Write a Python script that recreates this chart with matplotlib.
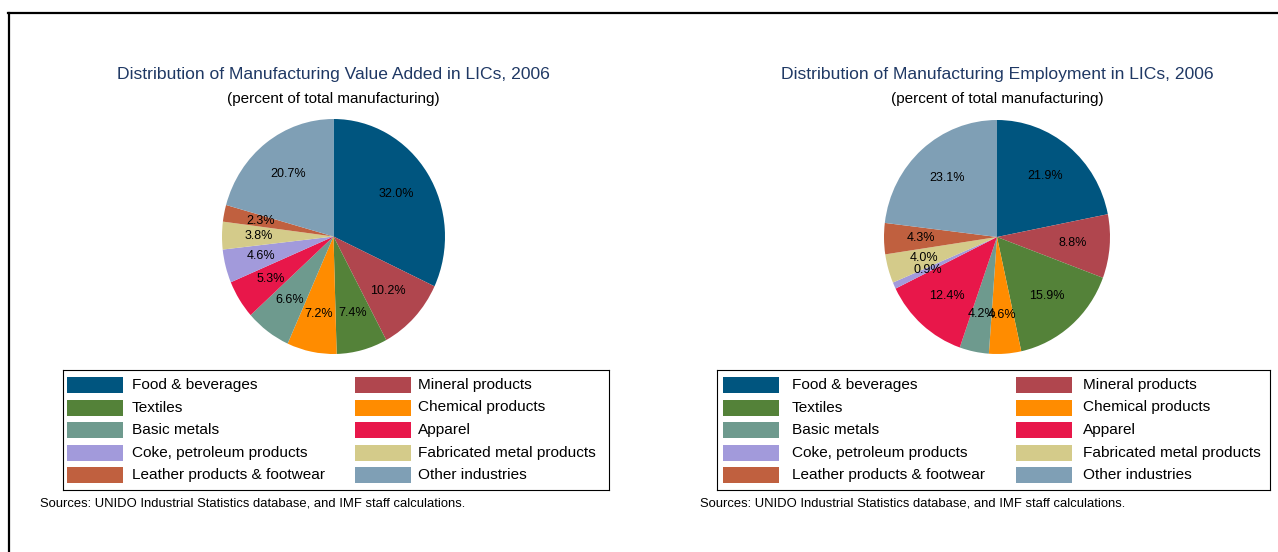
import matplotlib
matplotlib.use("Agg")
import matplotlib.pyplot as plt
from matplotlib.patches import Rectangle
from matplotlib.lines import Line2D

plt.rcParams['font.family'] = ['Liberation Sans', 'DejaVu Sans']

W, H = 1278, 552

categories = ["Food & beverages", "Mineral products", "Textiles", "Chemical products",
              "Basic metals", "Apparel", "Coke, petroleum products",
              "Fabricated metal products", "Leather products & footwear", "Other industries"]
colors = ["#00557f", "#b0464e", "#548239", "#ff8c00", "#6e9a8e",
          "#e8174a", "#a29adb", "#d4cb8a", "#c0603f", "#7f9fb5"]

value_added = [32.0, 10.2, 7.4, 7.2, 6.6, 5.3, 4.6, 3.8, 2.3, 20.7]
employment = [21.9, 8.8, 15.9, 4.6, 4.2, 12.4, 0.9, 4.0, 4.3, 23.1]

titles = ["Distribution of Manufacturing Value Added in LICs, 2006",
          "Distribution of Manufacturing Employment in LICs, 2006"]
subtitle = "(percent of total manufacturing)"
source = "Sources: UNIDO Industrial Statistics database, and IMF staff calculations."

fig = plt.figure(figsize=(W / 100, H / 100), dpi=100)


def px_axes(x0, y0, w, h):
    return fig.add_axes([x0 / W, (H - y0 - h) / H, w / W, h / H])


def draw_panel(values, title, pie_box, box, patch_x, text_x, src_x):
    # pie is slightly taller than wide in the original, so let it stretch
    px0, py0, px1, py1 = pie_box
    ax = px_axes(px0, py0, px1 - px0, py1 - py0)
    ax.pie(values, colors=colors, startangle=90, counterclock=False,
           autopct=lambda p: "%.1f%%" % p, pctdistance=0.67,
           wedgeprops=dict(linewidth=0),
           textprops=dict(fontsize=9, color="black"))
    ax.set_xlim(-1, 1)
    ax.set_ylim(-1, 1)
    ax.set_aspect("auto")
    ax.axis("off")

    cx = (px0 + px1) / 2
    fig.text(cx / W, 1 - 74 / H, title, ha="center", va="center",
             fontsize=12.6, color="#1f3864")
    fig.text(cx / W, 1 - 99 / H, subtitle, ha="center", va="center",
             fontsize=11, color="black")

    # legend box drawn by hand
    bx0, by0, bx1, by1 = box
    lax = px_axes(bx0, by0, bx1 - bx0, by1 - by0)
    lax.set_xlim(0, bx1 - bx0)
    lax.set_ylim(by1 - by0, 0)
    lax.set_xticks([])
    lax.set_yticks([])
    for s in lax.spines.values():
        s.set_linewidth(0.8)
    row_y = [15, 37.5, 60, 82.5, 105]
    for i, (name, col) in enumerate(zip(categories, colors)):
        c = i % 2
        yy = row_y[i // 2]
        lax.add_patch(Rectangle((patch_x[c], yy - 8), 56, 16, facecolor=col,
                                edgecolor="none"))
        lax.text(text_x[c], yy, name, va="center", ha="left", fontsize=11.1)

    fig.text(src_x / W, 1 - 504 / H, source, ha="left", va="center", fontsize=9.4)


draw_panel(value_added, titles[0], (222, 119, 445, 354), (63, 370, 609, 490),
           (4, 292), (69, 355), 40)
draw_panel(employment, titles[1], (884, 120, 1110, 354), (717, 370, 1270, 490),
           (6, 299), (75, 366), 700)

# outer frame (top and left edges)
fig.add_artist(Line2D([8 / W, 1], [1 - 12.5 / H, 1 - 12.5 / H], color="black", lw=1.6))
fig.add_artist(Line2D([8.5 / W, 8.5 / W], [0, 1 - 12.5 / H], color="black", lw=1.6))

fig.savefig("out.png", dpi=100)
